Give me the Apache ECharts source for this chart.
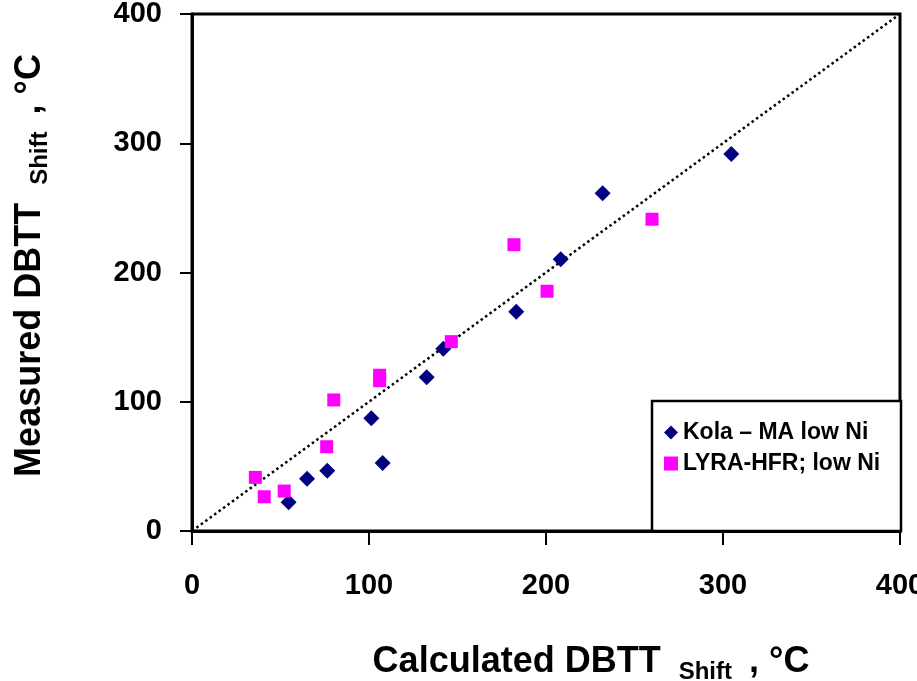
<!DOCTYPE html>
<html>
<head>
<meta charset="utf-8">
<script src="https://cdn.jsdelivr.net/npm/echarts@6/dist/echarts.min.js"></script>
<style>
  html, body { margin: 0; padding: 0; background: #fff; }
  #chart { width: 917px; height: 681px; }
</style>
</head>
<body>
<div id="chart"></div>
<script>
// Kola - MA low Ni (navy diamonds)
const kolaX = [54.6, 65, 76.4, 101.3, 107.7, 132.6, 142, 183.2, 208.3, 232, 304.7];
const kolaY = [22.2, 40.5, 46.7, 87.2, 52.6, 118.9, 141, 169.7, 210.2, 261.3, 291.7];

// LYRA-HFR; low Ni (magenta squares)
const lyraX = [35.8, 40.8, 52.1, 76.1, 80.1, 106, 106, 146.5, 181.9, 200.6, 259.9];
const lyraY = [41.5, 26.5, 30.9, 65.2, 101.4, 120.5, 116.3, 146.5, 221.5, 185.5, 241.2];

// 1:1 reference line
const lineX = [0, 400];
const lineY = [0, 400];

const seriesNames = ['Kola \u2013 MA low Ni', 'LYRA-HFR; low Ni'];

const font = "'Liberation Sans', Arial, sans-serif";

function pairs(xs, ys) {
    return xs.map(function (x, i) { return [x, ys[i]]; });
}

const chartDom = document.getElementById('chart');
const chart = echarts.init(chartDom);

const nameRich = {
    a: { fontSize: 36, fontWeight: 'bold', fontFamily: font, color: '#000', lineHeight: 40, verticalAlign: 'top' },
    s: { fontSize: 24, fontWeight: 'bold', fontFamily: font, color: '#000', lineHeight: 26, verticalAlign: 'top', padding: [16, 7, 0, 8] }
};

chart.setOption({
    animation: false,
    backgroundColor: '#fff',
    grid: {
        left: 192, right: 17, top: 14, bottom: 150,
        outerBoundsMode: 'none',
        containLabel: false,
        show: true, borderColor: '#000', borderWidth: 3
    },
    xAxis: {
        type: 'value', min: 0, max: 400, interval: 100,
        axisLine: { show: true, onZero: false, lineStyle: { color: '#000', width: 3 } },
        axisTick: { show: true, inside: false, length: 14, lineStyle: { color: '#000', width: 2 } },
        splitLine: { show: false },
        axisLabel: { margin: 40, fontSize: 29, fontWeight: 'bold', fontFamily: font, color: '#000' },
        name: '{a|Calculated DBTT }{s|Shift}{a| , \u00b0C}',
        nameLocation: 'middle',
        nameGap: 113,
        nameTextStyle: { rich: nameRich, padding: [0, 0, 0, 90] }
    },
    yAxis: {
        type: 'value', min: 0, max: 400, interval: 100,
        axisLine: { show: true, onZero: false, lineStyle: { color: '#000', width: 3 } },
        axisTick: { show: true, inside: false, length: 12, lineStyle: { color: '#000', width: 2 } },
        splitLine: { show: false },
        axisLabel: { margin: 30, fontSize: 29, fontWeight: 'bold', fontFamily: font, color: '#000' },
        name: '{a|Measured DBTT }{s|Shift}{a| , \u00b0C}',
        nameLocation: 'middle',
        nameRotate: 90,
        nameGap: 140,
        nameTextStyle: { rich: nameRich, padding: [0, 0, 0, 14] }
    },
    graphic: [{
        type: 'rect',
        z: 3,
        shape: { x: 652, y: 401, width: 249, height: 130 },
        style: { fill: '#fff', stroke: '#000', lineWidth: 2.5 }
    }],
    legend: {
        data: seriesNames,
        orient: 'vertical',
        left: 659, top: 416,
        itemWidth: 14, itemHeight: 14, itemGap: 8,
        z: 5,
        textStyle: { fontSize: 23, fontWeight: 'bold', fontFamily: font, color: '#000' }
    },
    series: [
        {
            type: 'line',
            data: pairs(lineX, lineY),
            symbol: 'none',
            silent: true,
            lineStyle: { color: '#000', width: 2.5, type: [2.5, 3] },
            z: 1
        },
        {
            name: seriesNames[0],
            type: 'scatter',
            symbol: 'diamond',
            symbolSize: 16,
            itemStyle: { color: '#000080', opacity: 1 },
            data: pairs(kolaX, kolaY),
            z: 2
        },
        {
            name: seriesNames[1],
            type: 'scatter',
            symbol: 'rect',
            symbolSize: 13,
            itemStyle: { color: '#ff00ff', opacity: 1 },
            data: pairs(lyraX, lyraY),
            z: 2
        }
    ]
});
</script>
</body>
</html>
